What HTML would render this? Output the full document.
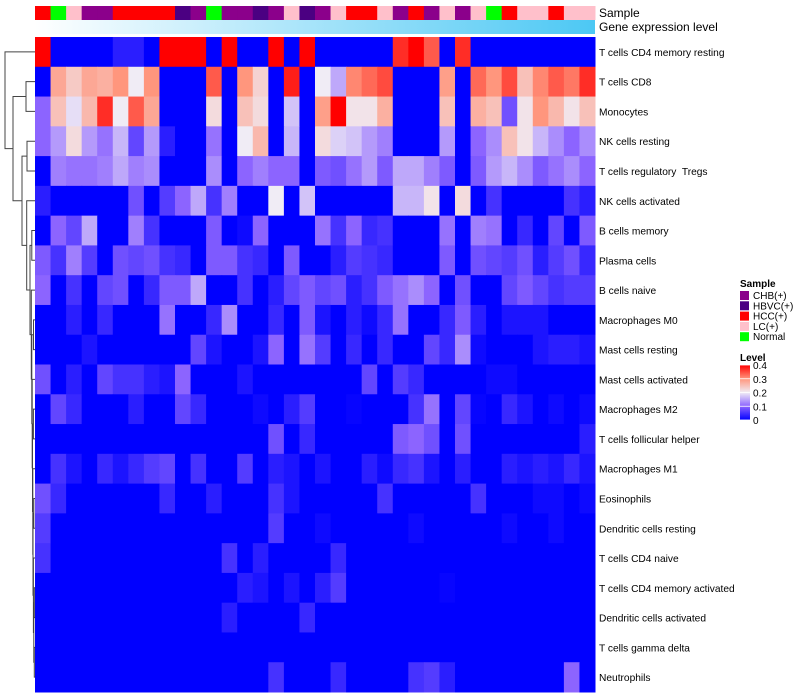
<!DOCTYPE html>
<html><head><meta charset="utf-8"><style>
body{margin:0;background:#fff;}
svg{display:block;font-family:"Liberation Sans",sans-serif;}
#rowlabels text{white-space:pre;}
</style></head><body>
<svg id="chart" width="800" height="700" viewBox="0 0 800 700">
<defs id="defs"></defs>
<g id="dendro" fill="none" stroke="#444" stroke-width="1"></g>
<g id="annot"></g>
<g id="cells"></g>
<g id="rowlabels" font-size="10.2" fill="#000"></g>
<g id="legend"></g>
</svg>
<script>
const rowNames = ["T cells CD4 memory resting","T cells CD8","Monocytes","NK cells resting","T cells regulatory  Tregs","NK cells activated","B cells memory","Plasma cells","B cells naive","Macrophages M0","Mast cells resting","Mast cells activated","Macrophages M2","T cells follicular helper","Macrophages M1","Eosinophils","Dendritic cells resting","T cells CD4 naive","T cells CD4 memory activated","Dendritic cells activated","T cells gamma delta","Neutrophils"];
const sampleGroups = ["HCC","Normal","LC","CHB","CHB","HCC","HCC","HCC","HCC","HBVC","CHB","Normal","CHB","CHB","HBVC","CHB","LC","HBVC","CHB","LC","HCC","HCC","LC","CHB","HCC","CHB","LC","CHB","LC","Normal","HCC","LC","LC","HCC","LC","LC"];
const groupNames = ["CHB(+)","HBVC(+)","HCC(+)","LC(+)","Normal"];
const groupKeys = ["CHB","HBVC","HCC","LC","Normal"];
const groupColors = ["#8b008b","#4b0082","#ff0000","#ffc0cb","#00ff00"];
const levelTicks = [0,0.1,0.2,0.3,0.4];
const values = [
[.4,0,0,0,0,.03,.03,0,.4,.4,.4,0,.4,0,0,.4,0,.4, 0,0,0,0,0,.37,.4,.34,0,.37,0,0,0,0,0,0,0,0],
[0,.28,.24,.28,.27,.3,.2,.3,0,0,0,.34,0,.3,.23,0,.38,0, .2,.15,.31,.33,.35,0,0,0,.29,0,.33,.3,.35,.25,.31,.34,.32,.37],
[.1,.25,.19,.26,.37,.2,.34,.28,0,0,0,.22,0,.25,.22,0,.17,0, .29,.4,.21,.21,.27,0,0,0,.25,0,.27,.25,.08,.21,.3,.26,.21,.25],
[.1,.14,.22,.14,.11,.16,.07,.14,.03,0,0,.11,0,.2,.26,0,.16,0, .22,.18,.17,.14,.12,0,0,0,.14,0,.1,.13,.25,.21,.16,.13,.1,.13],
[0,.12,.11,.11,.12,.15,.12,.13,0,0,0,.13,0,.1,.12,.1,.1,0, .09,.08,.11,.14,.09,.15,.15,.12,.09,0,.09,.14,.16,.13,.09,.11,.13,.1],
[.03,0,0,0,0,0,.08,0,.06,.1,.15,.05,.12,0,0,.2,0,.17, 0,0,0,0,0,.16,.16,.21,0,.22,0,.05,0,0,0,0,.05,.03],
[0,.1,.07,.15,0,0,.12,.05,0,0,0,.09,0,.01,.1,0,0,0, .11,.05,.1,.04,.05,0,0,0,.11,0,.12,.11,0,.04,0,.07,0,.09],
[.09,.05,.12,.06,0,.08,.07,.08,.05,.04,0,.09,.09,.05,.04,0,.09,0, 0,.03,.06,.05,.04,0,0,0,.09,0,.08,.07,.06,.08,.03,.06,.08,.04],
[.1,0,.05,0,.07,.08,0,.04,.09,.09,.15,0,0,.05,0,.03,.07,.09, .07,.08,.03,.05,.09,.11,.13,.1,0,.08,0,0,.07,.09,.07,.05,.06,.06],
[0,0,.03,0,.04,0,0,0,.11,0,0,.04,.13,0,0,.04,0,.09, .02,0,.03,.01,.04,.11,0,0,.04,.09,.03,0,.02,.02,.02,0,0,0],
[0,0,0,.02,0,0,0,0,0,0,.07,.02,0,0,.02,.1,0,.11, .06,0,.04,0,.04,0,0,.07,.04,.13,.01,0,0,0,.02,.03,.03,.02],
[.08,0,.03,0,.07,.05,.05,.03,.02,.1,0,0,0,.02,0,0,0,0, 0,0,0,.07,0,.06,.04,0,0,0,0,.01,.01,0,0,0,0,0],
[0,.07,.04,0,0,0,.03,0,0,.07,.04,0,0,0,.01,0,.03,.06, 0,0,.005,0,0,0,.05,.11,0,.07,.005,0,.04,.02,0,.01,0,.01],
[0,0,0,0,0,0,0,0,0,0,0,0,0,0,0,.08,0,.04, 0,0,0,0,0,.09,.1,.08,0,.08,0,0,0,0,0,0,0,.03],
[0,.05,.02,0,.04,.02,.04,.06,.07,0,.05,0,0,.06,0,.03,.02,0, .02,0,0,.03,.01,.04,.05,.02,0,.03,0,0,.03,.02,.03,.02,.04,.02],
[.08,.04,0,0,0,0,0,0,.04,0,0,.03,0,0,0,.05,.02,0, 0,0,0,0,.05,0,0,0,0,0,.05,0,0,0,.01,.01,0,.01],
[.06,0,0,0,0,0,0,0,0,0,0,0,0,0,0,.06,0,0, .01,0,0,0,0,0,.01,0,0,0,0,0,.01,0,0,.01,0,0],
[.05,0,0,0,0,0,0,0,0,0,0,0,.05,0,.03,0,0,0, 0,.04,0,0,0,0,0,0,0,0,0,0,0,0,0,0,0,0],
[0,0,0,0,0,0,0,0,0,0,0,0,0,.03,.02,0,.02,0, .03,.06,0,0,0,0,0,0,.005,0,0,0,0,0,0,0,0,0],
[0,0,0,0,0,0,0,0,0,0,0,0,.03,0,0,0,0,.04, 0,0,0,0,0,0,0,0,0,0,0,0,0,0,0,0,0,0],
[0,0,0,0,0,0,0,0,0,0,0,0,0,0,0,0,0,0, 0,0,0,0,0,0,0,0,0,0,0,0,0,0,0,0,0,0],
[0,0,0,0,0,0,0,0,0,0,0,0,0,0,0,.05,0,0, 0,.04,0,0,0,0,.05,.06,.03,0,0,0,0,0,0,0,.1,0]
];
// dendrogram nodes: [left, right, x-position of merge]
const n1821 = [[18,19,34.3],[20,21,34.3],33.8];
const n17 = [17, n1821, 33.4];
const n1517 = [[15,16,33.8], n17, 33];
const n14 = [14, n1517, 32.8];
const n1214 = [[12,13,33.4], n14, 32.5];
const n11 = [11, n1214, 32.2];
const n911 = [[9,10,33.5], n11, 31.8];
const n8 = [8, n911, 31.3];
const n68 = [[6,7,31.8], n8, 30];
const n5 = [5, n68, 26.7];
const nC = [[3,4,27], n5, 22];
const nA = [[1,2,26], nC, 13];
const tree = [0, nA, 5];

const NS = "http://www.w3.org/2000/svg";
const defs = document.getElementById('defs');
const X0 = 35, X1 = 595, Y0 = 37, Y1 = 692;
const nCol = sampleGroups.length, nRow = rowNames.length;
const cw = (X1 - X0) / nCol, rh = (Y1 - Y0) / nRow;
const xPos = c => X0 + c * cw;
const yPos = r => Y0 + r * rh;
const stops = [[0,[0,0,255]],[0.1,[140,100,255]],[0.2,[240,236,245]],[0.3,[255,150,125]],[0.4,[255,0,0]]];
function color(v){
  v = Math.max(0, Math.min(0.4, v));
  for (let i = 0; i < stops.length - 1; i++) {
    const a = stops[i][0], ca = stops[i][1], b = stops[i+1][0], cb = stops[i+1][1];
    if (v <= b) { const t = (v - a) / (b - a);
      return 'rgb(' + ca.map((c,k)=>Math.round(c + (cb[k]-c)*t)).join(',') + ')'; }
  }
  return 'rgb(255,0,0)';
}
function mk(tag, attrs, parent){ const e = document.createElementNS(NS, tag); for (const k in attrs) e.setAttribute(k, attrs[k]); parent.appendChild(e); return e; }

const cells = document.getElementById('cells');
values.forEach((row, r) => row.forEach((v, c) => {
  const el = mk('rect', {x: xPos(c), y: yPos(r), width: cw + 0.5, height: rh + 0.5, fill: color(v)}, cells);
  
  
}));

const annot = document.getElementById('annot');
sampleGroups.forEach((g, c) => {
  const el = mk('rect', {x: xPos(c), y: 6, width: cw + 0.5, height: 14, fill: groupColors[groupKeys.indexOf(g)]}, annot);
  
  
});
const lg = mk('linearGradient', {id: 'gexp', x1: 0, x2: 1, y1: 0, y2: 0}, defs);
mk('stop', {offset: 0, 'stop-color': '#ffffff'}, lg);
mk('stop', {offset: 1, 'stop-color': '#4cc8f4'}, lg);
const gbar = mk('rect', {x: X0, y: 20, width: X1 - X0, height: 14, fill: 'url(#gexp)'}, annot);


const t1 = mk('text', {x: 599, y: 17, 'font-size': 12}, annot); t1.textContent = 'Sample';


const t2 = mk('text', {x: 599, y: 31, 'font-size': 12}, annot); t2.textContent = 'Gene expression level';



const rl = document.getElementById('rowlabels');
rowNames.forEach((n, r) => {
  const el = mk('text', {x: 599, y: yPos(r) + rh/2 + 4}, rl); el.textContent = n;
  
  
});

const dg = document.getElementById('dendro');
function draw(node){
  if (typeof node === 'number') return {y: yPos(node) + rh/2, x: X0};
  const a = draw(node[0]), b = draw(node[1]), h = node[2];
  const p = mk('path', {d: 'M' + a.x + ',' + a.y + 'H' + h + 'V' + b.y + 'H' + b.x}, dg);
  
  
  return {y: (a.y + b.y)/2, x: h};
}
draw(tree);

const leg = document.getElementById('legend');
const lt = mk('text', {x: 740, y: 287, 'font-size': 10, 'font-weight': 'bold'}, leg); lt.textContent = 'Sample';


groupNames.forEach((n, i) => {
  const r = mk('rect', {x: 740, y: 291 + i*10.3, width: 9, height: 9, fill: groupColors[i]}, leg);
  
  
  const t = mk('text', {x: 753, y: 299 + i*10.3, 'font-size': 10}, leg); t.textContent = n;
  
  
});
const lv = mk('text', {x: 740, y: 361, 'font-size': 10, 'font-weight': 'bold'}, leg); lv.textContent = 'Level';


const cg = mk('linearGradient', {id: 'lvl', x1: 0, x2: 0, y1: 1, y2: 0}, defs);
stops.forEach(s => mk('stop', {offset: s[0]/0.4, 'stop-color': 'rgb(' + s[1].join(',') + ')'}, cg));
const cbTop = 365, cbBot = 420;
const cb = mk('rect', {x: 740, y: cbTop, width: 10, height: cbBot - cbTop, fill: 'url(#lvl)'}, leg);


levelTicks.forEach(v => {
  const y = cbBot - (v/0.4)*(cbBot - cbTop);
  const tk = mk('line', {x1: 740, x2: 750, y1: y, y2: y, stroke: '#fff', 'stroke-width': 0.8}, leg);
  
  
  const t = mk('text', {x: 753, y: y + 4, 'font-size': 10}, leg); t.textContent = String(v);
  
  
});
</script>
</body></html>
